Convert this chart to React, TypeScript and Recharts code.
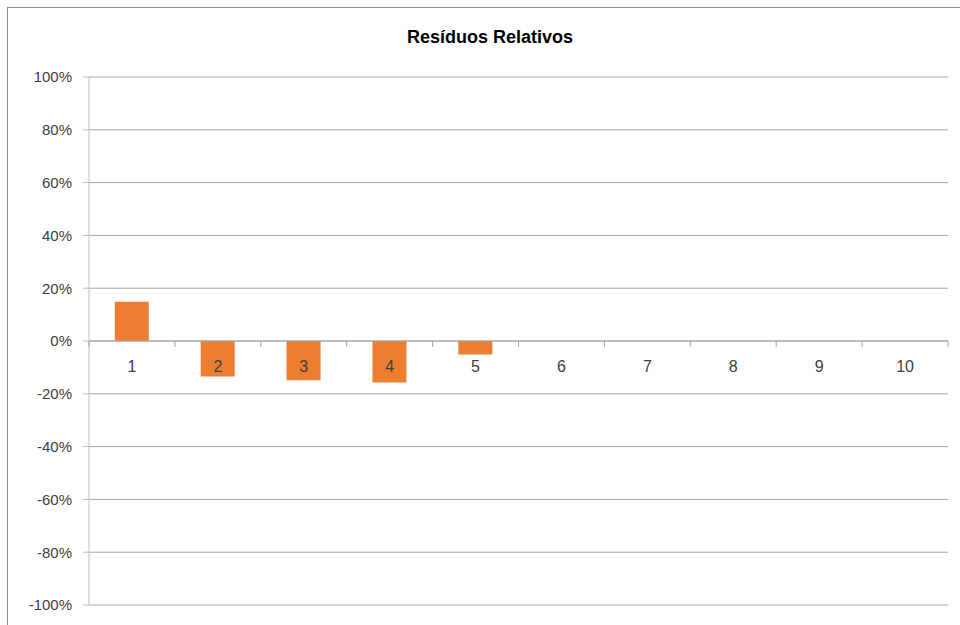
import React from 'react';
import * as Recharts from 'recharts';
import { BarChart, Bar, XAxis, YAxis, CartesianGrid, ReferenceLine } from 'recharts';

const categories = ['1', '2', '3', '4', '5', '6', '7', '8', '9', '10'];
const residuals = [0.149, -0.134, -0.149, -0.157, -0.051, 0, 0, 0, 0, 0];
const yTicks = [-1, -0.8, -0.6, -0.4, -0.2, 0, 0.2, 0.4, 0.6, 0.8, 1];
const Y_MIN = -1;
const Y_MAX = 1;

const data = categories.map((c, i) => ({ cat: c, value: residuals[i] }));

const FONT = '"Liberation Sans", Arial, sans-serif';
const usePA: any = (Recharts as any).usePlotArea || (() => null);

const W = 960;
const H = 625;
const M = { top: 77, right: 12, bottom: 19, left: 0 };
const YW = 89;

function CatTick(props: any) {
  const pa = usePA();
  const { x, payload, index } = props;
  const top = pa ? pa.y : M.top;
  const h = pa ? pa.height : H - M.top - M.bottom - 1;
  const zeroY = top + (h * (Y_MAX - 0)) / (Y_MAX - Y_MIN);
  const off = payload && payload.offset ? payload.offset : 43;
  return (
    <g>
      <line x1={x - off} x2={x - off} y1={zeroY} y2={zeroY + 6} stroke="#a6a6a6" />
      {index === categories.length - 1 && (
        <line x1={x + off} x2={x + off} y1={zeroY} y2={zeroY + 6} stroke="#a6a6a6" />
      )}
      <text x={x} y={zeroY + 31} textAnchor="middle" fontSize={16} fill="#404040" fontFamily={FONT}>
        {payload.value}
      </text>
    </g>
  );
}

const pct = (v: number) => `${Math.round(v * 100)}%`;

export default function App() {
  return (
    <div style={{ position: 'absolute', left: 0, top: 0, width: W, height: H, overflow: 'hidden', background: '#fff' }}>
      <div
        style={{
          position: 'absolute',
          left: 7,
          top: 7,
          width: W,
          height: H,
          border: '1px solid #8c8c8c',
        }}
      />
      <div
        style={{
          position: 'absolute',
          left: 0,
          top: 27,
          width: 980,
          textAlign: 'center',
          fontFamily: FONT,
          fontWeight: 'bold',
          fontSize: 18,
          color: '#000',
        }}
      >
        Resíduos Relativos
      </div>
      <div style={{ position: 'absolute', left: 0, top: 0 }}>
        <BarChart width={W} height={H} data={data} margin={M} barCategoryGap="30%">
          <CartesianGrid vertical={false} stroke="#a6a6a6" />
          <XAxis
            dataKey="cat"
            height={1}
            axisLine={false}
            tickLine={false}
            interval={0}
            tick={<CatTick />}
          />
          <YAxis
            domain={[Y_MIN, Y_MAX]}
            ticks={yTicks}
            width={YW}
            tickFormatter={pct}
            tickSize={6}
            tickMargin={11}
            stroke="#bfbfbf"
            tick={{ fontSize: 15, fill: '#404040', fontFamily: FONT }}
            interval={0}
          />
          <ReferenceLine y={0} stroke="#a6a6a6" />
          <Bar dataKey="value" fill="#ED7D31" isAnimationActive={false} />
        </BarChart>
      </div>
    </div>
  );
}
